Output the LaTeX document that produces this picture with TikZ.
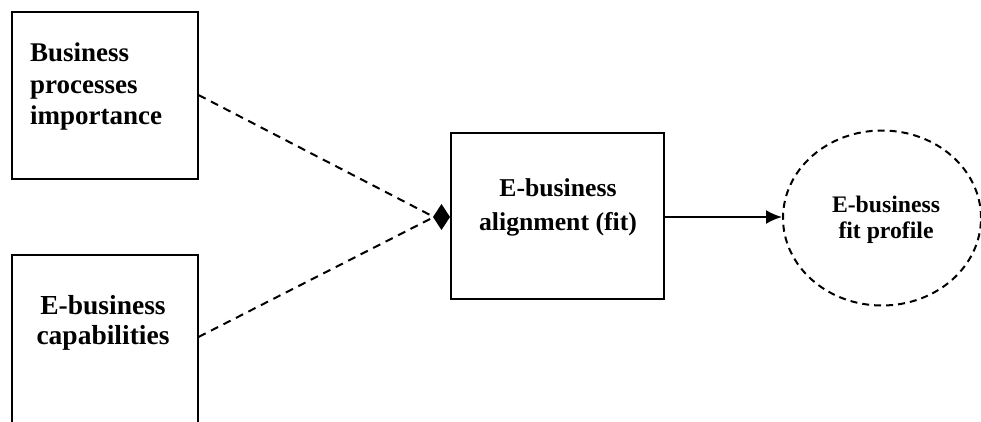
\documentclass[tikz,border=0pt]{standalone}
\usepackage{fontspec}
\setmainfont{Liberation Serif}
\usepackage{tikz}
\usetikzlibrary{arrows.meta,shapes.geometric}

\begin{document}
\begin{tikzpicture}[x=1pt, y=-1pt, >={Latex[length=16pt,width=14pt]},
		box/.style={draw, line width=2pt, inner sep=0pt},
		txt/.style={font=\bfseries\fontsize{27}{31.5}\selectfont, align=left, inner sep=0pt},
		link/.style={line width=2pt, dash pattern=on 8pt off 6pt}]
		\useasboundingbox (0,0) rectangle (981,421);
		% ---------------- inputs ----------------
		\node[box, minimum width=186pt, minimum height=167pt] (bpi) at (104.5,95.5) {};
		\node[txt, anchor=west] (bpit) at (30,87) {Business\\processes\\importance};
		\node[box, minimum width=186pt, minimum height=178pt] (ebc) at (104.5,344) {};
		\node[txt, align=center, font=\bfseries\fontsize{27.5}{29.5}\selectfont] (ebct) at (103,323) {E-business\\capabilities};
		% ---------------- alignment ----------------
		\node[box, minimum width=213pt, minimum height=166pt] (fit) at (557.5,216) {};
		\node[txt, align=center, font=\bfseries\fontsize{25.7}{34}\selectfont] (fitt) at (558,207) {E-business\\alignment (fit)};
		% ---------------- profile ----------------
		\node[draw, ellipse, line width=2pt, dash pattern=on 7pt off 5pt,
			minimum width=198pt, minimum height=175pt] (prof) at (882,218) {};
		\node[txt, align=center, font=\bfseries\fontsize{23.7}{25.5}\selectfont] (proft) at (886,220) {E-business\\fit profile};
		% ---------------- links ----------------
		\coordinate (jn) at (434,217);
		\draw[link] (bpi.east |- 0,95) -- (jn);
		\draw[link] (ebc.east |- 0,337) -- (jn);
		\draw[-{Diamond[length=17pt,width=26pt]}, line width=2pt] (jn) -- (fit.west |- jn);
		\draw[->, line width=2pt] (fit.east |- jn) -- (prof.west |- jn);
	\end{tikzpicture}
\end{document}
